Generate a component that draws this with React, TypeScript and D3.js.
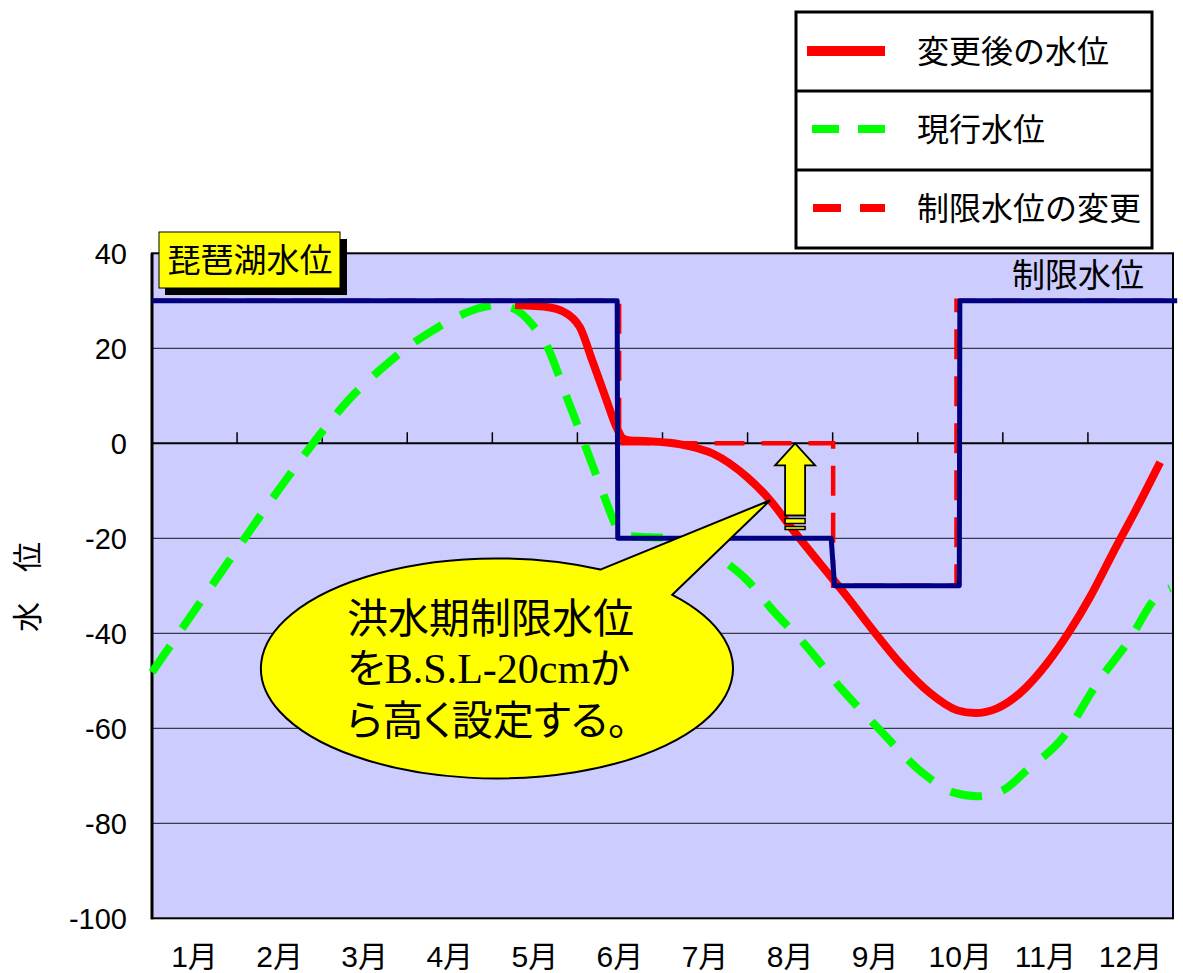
import React, { useEffect, useRef } from "react";
import * as d3 from "d3";

// Category labels along the bottom and value ticks on the left
const months = ["1月", "2月", "3月", "4月", "5月", "6月", "7月", "8月", "9月", "10月", "11月", "12月"];
const levelTicks = [40, 20, 0, -20, -40, -60, -80, -100];
const gridLevels = [20, -20, -40, -60, -80];

// 変更後の水位 (day of year, cm)
const revisedDays = [129.8, 142.3, 150.5, 153, 157.4, 162, 166.2, 168.4, 170.9, 176, 185, 192, 200.6, 212.7, 221, 229.2, 238.8, 248.5, 257.8, 267.4, 278.2, 287.8, 294.2, 302.1, 310.3, 320, 328.2, 335.4, 343.6, 352.2, 360.4];
const revisedLevels = [29.1, 28.6, 26.3, 24.4, 17.4, 9.9, 3.2, 1.0, 0.6, 0.5, 0.1, -0.6, -2.2, -7.1, -12, -18.3, -25.3, -32.3, -39.4, -46.3, -52.6, -56.2, -56.8, -55.8, -52.6, -46.3, -39.4, -32.3, -23, -13.5, -4];

// 現行水位 (day of year, cm)
const currentDays = [0, 11, 23, 35, 46, 57.6, 64, 71, 78, 85, 92, 100, 110, 118, 123.3, 129.1, 136.2, 141.6, 145, 148.4, 152, 155.5, 159, 162.5, 166, 170, 178, 187, 195.9, 204.1, 212.7, 222, 234.2, 246, 260.3, 275.7, 286.4, 295, 304.3, 312.8, 325.7, 337.9, 348.6, 360.4, 364];
const currentLevels = [-48.2, -38.8, -28.6, -18.4, -9.2, 0, 4.8, 9.6, 13.6, 17.2, 20.5, 23.6, 26.9, 28.6, 29.1, 28.4, 24.8, 20, 15, 9.5, 4, -1.5, -7, -12.5, -17.5, -19.5, -19.8, -19.9, -21.2, -24.6, -28.8, -35.2, -42.9, -51.4, -60.4, -69.5, -73.5, -74.3, -73, -68.8, -61.9, -50.5, -42.1, -31.6, -30.5];

// 制限水位 (current restriction level)
const limitDays = [0, 166.3, 166.5, 242.8, 244, 288.6, 288.8, 366.5];
const limitLevels = [30, 30, -20, -20, -30, -30, 30, 30];

// 制限水位の変更 (revised restriction level)
const newLimitDays = [0, 167, 167, 243.5, 243.5, 287.6, 287.6, 365];
const newLimitLevels = [30, 30, 0, 0, -30, -30, 30, 30];

// Annotation anchors in data units
const arrowDay = 229.9;
const arrowBottomLevel = -15.2;
const calloutDay = 123.3;
const calloutLevel = -47.4;
const calloutTipDay = 221;
const calloutTipLevel = -12;

const W = 1183;
const H = 973;
const JP = "'Noto Sans CJK JP', sans-serif";
const NUM = "'Liberation Sans', 'Noto Sans CJK JP', sans-serif";

type Pt = [number, number];
const zip = (a: number[], b: number[]): Pt[] => a.map((d, i) => [d, b[i]]);

export default function App() {
  const ref = useRef<SVGSVGElement | null>(null);

  useEffect(() => {
    const svg = d3.select(ref.current);
    svg.selectAll("*").remove();

    const left = 152, right = 1173;
    const x = d3.scaleLinear().domain([0, 365]).range([left, right]);
    const y = d3.scaleLinear().domain([-100, 40]).range([918.3, 253.3]);
    const band = d3.scaleBand<string>().domain(months).range([left, right]);

    // plot area
    svg.append("rect")
      .attr("x", left).attr("y", y(40))
      .attr("width", right - left).attr("height", y(-100) - y(40))
      .attr("fill", "#ccccff");

    // horizontal grid
    svg.append("g").selectAll("line").data(gridLevels).join("line")
      .attr("x1", left).attr("x2", right)
      .attr("y1", (d) => y(d)).attr("y2", (d) => y(d))
      .attr("stroke", "#3a3a4a").attr("stroke-width", 1.3);

    // category axis along the zero line, with ticks at month boundaries
    const monthEdges = d3.range(1, 12).map((i) => (band(months[i]) as number));
    const zeroAxis = svg.append("g").attr("transform", `translate(0,${y(0)})`);
    zeroAxis.append("line").attr("x1", left).attr("x2", right).attr("stroke", "#000").attr("stroke-width", 2);
    zeroAxis.selectAll("line.tk").data(monthEdges).join("line").attr("class", "tk")
      .attr("x1", (d) => d).attr("x2", (d) => d).attr("y1", 0).attr("y2", -11)
      .attr("stroke", "#000").attr("stroke-width", 1.5);

    // plot border
    svg.append("rect")
      .attr("x", left).attr("y", y(40))
      .attr("width", right - left).attr("height", y(-100) - y(40))
      .attr("fill", "none").attr("stroke", "#000").attr("stroke-width", 2);
    svg.append("line").attr("x1", left).attr("x2", left).attr("y1", y(40)).attr("y2", y(-100) + 1)
      .attr("stroke", "#000").attr("stroke-width", 3);

    // value labels
    const yAxis = d3.axisLeft(y).tickValues(levelTicks).tickSize(0).tickPadding(25).tickFormat((d) => String(d));
    const ya = svg.append("g").attr("transform", `translate(${left},0)`).call(yAxis);
    ya.select(".domain").remove();
    ya.selectAll("text").attr("font-family", NUM).attr("font-size", 29).attr("fill", "#000").attr("dy", "0.36em");

    // month labels
    svg.append("g").selectAll("text").data(months).join("text")
      .attr("x", (d) => (band(d) as number) + band.bandwidth() / 2)
      .attr("y", 967)
      .attr("text-anchor", "middle")
      .attr("font-family", NUM).attr("font-size", 30).attr("fill", "#000")
      .text((d) => d);

    // axis title
    svg.append("text")
      .attr("transform", "translate(38,587) rotate(-90)")
      .attr("text-anchor", "middle")
      .attr("font-family", JP).attr("font-size", 30).attr("fill", "#000")
      .text("水　位");

    const line = d3.line<Pt>().x((d) => x(d[0])).y((d) => y(d[1]));
    const smooth = d3.line<Pt>().x((d) => x(d[0])).y((d) => y(d[1])).curve(d3.curveMonotoneX);

    // 現行水位
    svg.append("path").attr("d", smooth(zip(currentDays, currentLevels)))
      .attr("fill", "none").attr("stroke", "#00ff00").attr("stroke-width", 8)
      .attr("stroke-dasharray", "32 21");

    // 変更後の水位
    svg.append("path").attr("d", smooth(zip(revisedDays, revisedLevels)))
      .attr("fill", "none").attr("stroke", "#ff0000").attr("stroke-width", 8)
      .attr("stroke-linejoin", "round");

    // 制限水位の変更
    svg.append("path").attr("d", line(zip(newLimitDays, newLimitLevels)))
      .attr("fill", "none").attr("stroke", "#ff0000").attr("stroke-width", 4.5)
      .attr("stroke-dasharray", "30 17");

    // 制限水位
    svg.append("path").attr("d", line(zip(limitDays, limitLevels)))
      .attr("fill", "none").attr("stroke", "#000080").attr("stroke-width", 5)
      .attr("stroke-linejoin", "round");

    // callout bubble
    const cx = x(calloutDay), cy = y(calloutLevel);
    const rx = 236, ry = 110;
    const a1 = (-64 * Math.PI) / 180, a2 = (-42 * Math.PI) / 180;
    const A: Pt = [cx + rx * Math.cos(a1), cy + ry * Math.sin(a1)];
    const B: Pt = [cx + rx * Math.cos(a2), cy + ry * Math.sin(a2)];
    const tip: Pt = [x(calloutTipDay), y(calloutTipLevel)];
    const bubble = `M${A[0]},${A[1]} L${tip[0]},${tip[1]} L${B[0]},${B[1]} A${rx},${ry} 0 1 1 ${A[0]},${A[1]} Z`;
    svg.append("path").attr("d", bubble).attr("fill", "#ffff00").attr("stroke", "#000").attr("stroke-width", 2);

    const lines = [["洪水期制限水位"], ["を", "B.S.L-20cm", "か"], ["ら高く設定する。"]];
    const baselines = [633, 683, 735];
    lines.forEach((parts, i) => {
      const t = svg.append("text")
        .attr("x", 347).attr("y", baselines[i])
        .attr("font-family", JP).attr("font-size", 41).attr("fill", "#000")
        .style("font-feature-settings", '"palt" 1');
      parts.forEach((p) => {
        const s = t.append("tspan").text(p);
        if (p.startsWith("B.")) s.attr("font-family", "'Liberation Serif', serif").attr("font-size", 42);
      });
    });

    // upward arrow
    const ax = x(arrowDay), aTop = y(0), aBot = y(arrowBottomLevel);
    const headH = 22, headW = 20, shaftW = 10;
    const arrow: Pt[] = [
      [ax, aTop], [ax + headW, aTop + headH], [ax + shaftW, aTop + headH], [ax + shaftW, aBot],
      [ax - shaftW, aBot], [ax - shaftW, aTop + headH], [ax - headW, aTop + headH],
    ];
    svg.append("path").attr("d", "M" + arrow.map((p) => p.join(",")).join("L") + "Z")
      .attr("fill", "#ffff00").attr("stroke", "#000").attr("stroke-width", 1.8).attr("stroke-linejoin", "miter");
    [[3, 5], [11, 3]].forEach(([off, h]) => {
      svg.append("rect").attr("x", ax - shaftW).attr("y", aBot + off).attr("width", shaftW * 2).attr("height", h)
        .attr("fill", "#ffff00").attr("stroke", "#000").attr("stroke-width", 1.5);
    });

    // 琵琶湖水位 tag
    svg.append("rect").attr("x", 165).attr("y", 239).attr("width", 182).attr("height", 56).attr("fill", "#000");
    svg.append("rect").attr("x", 159).attr("y", 232).attr("width", 181).attr("height", 56)
      .attr("fill", "#ffff00").attr("stroke", "#000").attr("stroke-width", 1);
    svg.append("text").attr("x", 250).attr("y", 272).attr("text-anchor", "middle")
      .attr("font-family", JP).attr("font-size", 33).attr("fill", "#000").text("琵琶湖水位");

    // 制限水位 label
    svg.append("text").attr("x", 1144).attr("y", 287).attr("text-anchor", "end")
      .attr("font-family", JP).attr("font-size", 33).attr("fill", "#000").text("制限水位");

    // legend
    const lg = svg.append("g");
    lg.append("rect").attr("x", 796).attr("y", 12).attr("width", 356).attr("height", 236)
      .attr("fill", "#fff").attr("stroke", "#000").attr("stroke-width", 3);
    [91, 170].forEach((yy) => {
      lg.append("line").attr("x1", 796).attr("x2", 1152).attr("y1", yy).attr("y2", yy)
        .attr("stroke", "#000").attr("stroke-width", 3);
    });
    const legendItems = [
      { label: "変更後の水位", color: "#ff0000", dash: null, width: 10, y: 51, x1: 807, x2: 885 },
      { label: "現行水位", color: "#00ff00", dash: "27 19", width: 8, y: 129, x1: 812, x2: 886 },
      { label: "制限水位の変更", color: "#ff0000", dash: "28 19", width: 8, y: 208, x1: 813, x2: 885 },
    ];
    legendItems.forEach((it) => {
      const l = lg.append("line").attr("x1", it.x1).attr("x2", it.x2).attr("y1", it.y).attr("y2", it.y)
        .attr("stroke", it.color).attr("stroke-width", it.width);
      if (it.dash) l.attr("stroke-dasharray", it.dash);
      lg.append("text").attr("x", 917).attr("y", it.y + 12)
        .attr("font-family", JP).attr("font-size", 32).attr("fill", "#000").text(it.label);
    });
  }, []);

  return (
    <svg
      ref={ref}
      width={W}
      height={H}
      viewBox={`0 0 ${W} ${H}`}
      style={{ position: "absolute", left: 0, top: 0, background: "#fff" }}
    />
  );
}
